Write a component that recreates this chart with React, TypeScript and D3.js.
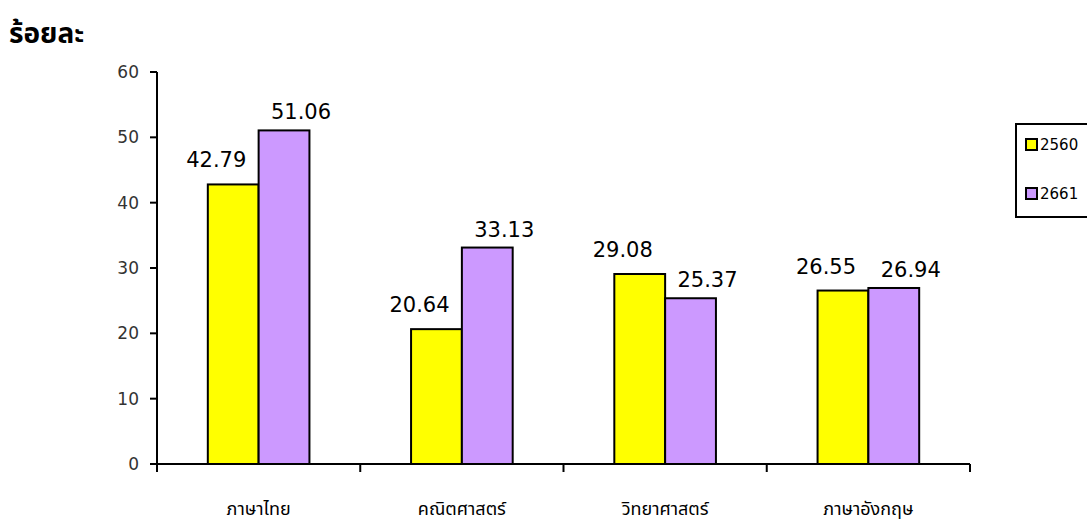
import React from "react";
import * as d3 from "d3";

const categories = ["ภาษาไทย", "คณิตศาสตร์", "วิทยาศาสตร์", "ภาษาอังกฤษ"];
const seriesNames = ["2560", "2661"];
const values2560 = [42.79, 20.64, 29.08, 26.55];
const values2661 = [51.06, 33.13, 25.37, 26.94];
const yTicks = [0, 10, 20, 30, 40, 50, 60];
const colors = ["#FFFF00", "#CC99FF"];

const W = 1087;
const H = 524;
const left = 157;
const right = 970;
const top = 72;
const bottom = 464;

export default function App() {
  const x = d3.scaleBand<string>().domain(categories).range([left, right]).paddingInner(0).paddingOuter(0);
  const inner = d3.scaleBand<string>().domain(seriesNames).range([0, x.bandwidth()]).paddingInner(0).paddingOuter(1);
  const y = d3.scaleLinear().domain([0, 60]).range([bottom, top]);
  const series = [values2560, values2661];
  const labelDx = [-17, 17];
  const labelGap = [17, 11];
  const numFont = "'DejaVu Sans', Verdana, sans-serif";
  const thaiFont = "'Noto Sans Thai', 'Noto Sans', 'DejaVu Sans', sans-serif";

  return (
    <svg width={W} height={H} style={{ position: "absolute", left: 0, top: 0 }}>
      <rect x={0} y={0} width={W} height={H} fill="#fff" />
      <text x={9} y={43} fontFamily={thaiFont} fontWeight="bold" fontSize={28} fill="#000">ร้อยละ</text>

      {/* bars */}
      {series.map((vals, si) =>
        vals.map((v, ci) => {
          const bx = (x(categories[ci]) as number) + (inner(seriesNames[si]) as number);
          return (
            <rect key={`b${si}-${ci}`} x={bx} y={y(v)} width={inner.bandwidth()} height={y(0) - y(v)}
              fill={colors[si]} stroke="#000" strokeWidth={2} />
          );
        })
      )}

      {/* value labels */}
      {series.map((vals, si) =>
        vals.map((v, ci) => {
          const cx = (x(categories[ci]) as number) + (inner(seriesNames[si]) as number) + inner.bandwidth() / 2;
          return (
            <text key={`l${si}-${ci}`} x={cx + labelDx[si]} y={y(v) - labelGap[si]} textAnchor="middle"
              fontFamily={numFont} fontSize={21} fill="#000">{v.toFixed(2)}</text>
          );
        })
      )}

      {/* y axis */}
      <line x1={left} x2={left} y1={top} y2={bottom} stroke="#000" strokeWidth={2} />
      {yTicks.map((t) => (
        <g key={`yt${t}`}>
          <line x1={left - 7} x2={left} y1={y(t)} y2={y(t)} stroke="#000" strokeWidth={2} />
          <text x={left - 18} y={y(t)} dy="0.35em" textAnchor="end" fontFamily={numFont} fontSize={17} fill="#333">{t}</text>
        </g>
      ))}

      {/* x axis */}
      <line x1={left} x2={right} y1={bottom} y2={bottom} stroke="#000" strokeWidth={2} />
      {[...categories.map((c) => x(c) as number), right].map((px, i) => (
        <line key={`xt${i}`} x1={px} x2={px} y1={bottom} y2={bottom + 8} stroke="#000" strokeWidth={2} />
      ))}
      {categories.map((c) => (
        <text key={`xl${c}`} x={(x(c) as number) + x.bandwidth() / 2} y={515} textAnchor="middle"
          fontFamily={thaiFont} fontSize={18} fill="#000">{c}</text>
      ))}

      {/* legend */}
      <rect x={1016} y={124} width={80} height={93} fill="#fff" stroke="#000" strokeWidth={2} />
      {seriesNames.map((s, i) => (
        <g key={`lg${s}`}>
          <rect x={1026} y={139 + i * 49} width={11} height={11} fill={colors[i]} stroke="#000" strokeWidth={2} />
          <text x={1040} y={145 + i * 49} dy="0.35em" fontFamily={numFont} fontSize={15} fill="#000">{s}</text>
        </g>
      ))}
    </svg>
  );
}
